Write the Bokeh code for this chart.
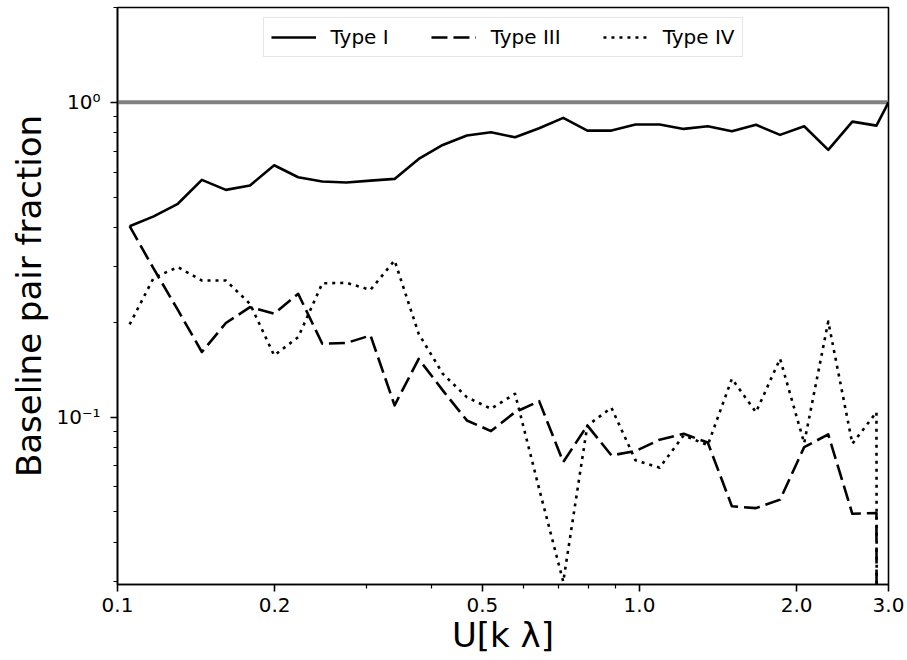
from bokeh.plotting import figure
from bokeh.models import Range1d, FixedTicker, Span, Legend, LegendItem
from bokeh.embed import file_html
from bokeh.resources import INLINE

# ---- data ----
u_klambda = [0.1055, 0.1173, 0.1305, 0.1451, 0.1613, 0.1794, 0.1996, 0.2219,
             0.2468, 0.2745, 0.3053, 0.3395, 0.3776, 0.4199, 0.4670, 0.5194,
             0.5777, 0.6424, 0.7145, 0.7946, 0.8837, 0.9828, 1.0930, 1.2155,
             1.3518, 1.5034, 1.6720, 1.8595, 2.0682, 2.2999, 2.5578, 2.8447, 3.0]

type_I = [0.404, 0.434, 0.476, 0.567, 0.527, 0.544, 0.631, 0.578,
          0.560, 0.556, 0.564, 0.571, 0.661, 0.732, 0.784, 0.803,
          0.774, 0.827, 0.892, 0.813, 0.813, 0.850, 0.850, 0.823,
          0.839, 0.809, 0.848, 0.788, 0.839, 0.706, 0.868, 0.843, 1.0]

type_III = [0.404, 0.296, 0.219, 0.161, 0.199, 0.2235, 0.213, 0.2465,
            0.171, 0.172, 0.1817, 0.109, 0.153, 0.1216, 0.0976, 0.0903,
            0.1037, 0.1124, 0.0720, 0.0941, 0.0756, 0.078, 0.0848, 0.0885,
            0.083, 0.0521, 0.0514, 0.0547, 0.0803, 0.0881, 0.0493, 0.0496, 0.0]

type_IV = [0.197, 0.277, 0.2995, 0.2716, 0.2716, 0.229, 0.157, 0.1795,
           0.266, 0.267, 0.2537, 0.3144, 0.184, 0.1373, 0.1157, 0.1063,
           0.1186, 0.0592, 0.030, 0.094, 0.1071, 0.0729, 0.0691, 0.0875,
           0.0815, 0.1324, 0.1037, 0.1532, 0.0827, 0.2012, 0.0823, 0.1037, 0.0]

series_names = ["Type I", "Type III", "Type IV"]
reference_level = 1.0

x_major = [0.1, 0.2, 0.5, 1.0, 2.0, 3.0]
x_major_labels = ["0.1", "0.2", "0.5", "1.0", "2.0", "3.0"]
x_minor = [0.3, 0.4, 0.6, 0.7, 0.8, 0.9]
y_major = [0.1, 1.0]
y_major_labels = ["10\u207b\u00b9", "10\u2070"]
y_minor = [0.03, 0.04, 0.05, 0.06, 0.07, 0.08, 0.09,
           0.2, 0.3, 0.4, 0.5, 0.6, 0.7, 0.8, 0.9, 2.0]

FONT = "DejaVu Sans"


def clip_nonpositive(values, floor=1e-30):
    # like matplotlib's log-scale 'clip' of non-positive values
    return [v if v > 0 else floor for v in values]


p = figure(
    x_axis_type="log", y_axis_type="log",
    x_range=Range1d(0.1, 3.0), y_range=Range1d(0.0294, 2.0),
    frame_width=771, frame_height=577,
    min_border_left=117, min_border_right=19, min_border_top=7, min_border_bottom=60,
    output_backend="svg", toolbar_location=None,
    background_fill_color="white", border_fill_color="white",
)
p.xgrid.visible = False
p.ygrid.visible = False
p.outline_line_color = "black"
p.outline_line_width = 1.6
p.outline_line_alpha = 1.0

p.add_layout(Span(location=reference_level, dimension="width",
                  line_color="#808080", line_width=4, level="underlay"))

common = dict(line_color="black", line_width=2.6, line_join="round")
r1 = p.line(u_klambda, type_I, **common)
r3 = p.line(u_klambda, clip_nonpositive(type_III), line_dash="16 6", **common)
r4 = p.line(u_klambda, clip_nonpositive(type_IV), line_dash="3 5", **common)

# axes
for ax in (p.xaxis[0], p.yaxis[0]):
    ax.axis_line_color = "black"
    ax.axis_line_width = 1.6
    ax.major_tick_line_width = 1.6
    ax.minor_tick_line_width = 1.2
    ax.major_tick_out = 7
    ax.major_tick_in = 0
    ax.minor_tick_out = 4
    ax.minor_tick_in = 0
    ax.major_label_text_font = FONT
    ax.major_label_text_font_size = "20px"
    ax.major_label_text_color = "black"
    ax.axis_label_text_font = FONT
    ax.axis_label_text_font_size = "34px"
    ax.axis_label_text_font_style = "normal"
    ax.axis_label_text_color = "black"

p.xaxis[0].ticker = FixedTicker(ticks=x_major, minor_ticks=x_minor)
p.xaxis[0].major_label_overrides = {t: s for t, s in zip(x_major, x_major_labels)}
p.xaxis[0].axis_label = "U[k \u03bb]"
p.xaxis[0].major_label_standoff = 6
p.xaxis[0].axis_label_standoff = 0

p.yaxis[0].ticker = FixedTicker(ticks=y_major, minor_ticks=y_minor)
p.yaxis[0].major_label_overrides = {t: s for t, s in zip(y_major, y_major_labels)}
p.yaxis[0].axis_label = "Baseline pair fraction"
p.yaxis[0].major_label_standoff = 10
p.yaxis[0].axis_label_standoff = 4

legend = Legend(
    items=[LegendItem(label=series_names[0], renderers=[r1]),
           LegendItem(label=series_names[1], renderers=[r3]),
           LegendItem(label=series_names[2], renderers=[r4])],
    orientation="horizontal", location="top_center",
    glyph_width=45, glyph_height=20, label_standoff=15, spacing=42,
    padding=7, margin=10,
    label_text_font=FONT, label_text_font_size="20px", label_text_color="black",
    border_line_color="#cccccc", border_line_width=1.2,
    background_fill_color="white", background_fill_alpha=0.8,
)
p.add_layout(legend, "center")

open("out.html", "w").write(file_html(p, INLINE))
